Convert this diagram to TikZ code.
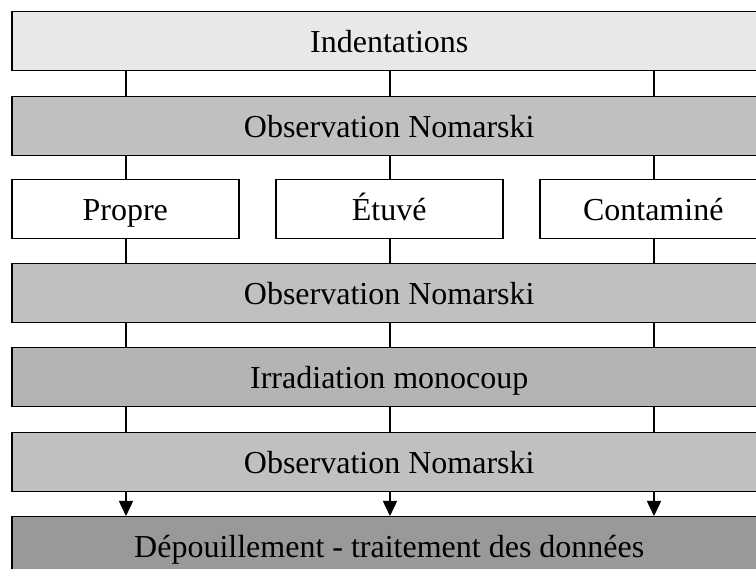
\documentclass[tikz,border=0pt]{standalone}
\usepackage{fontspec}
\setmainfont{Liberation Serif}
\usetikzlibrary{arrows.meta}
\definecolor{cTop}{HTML}{E8E8E8}
\definecolor{cObs}{HTML}{C0C0C0}
\definecolor{cIrr}{HTML}{B4B4B4}
\definecolor{cDep}{HTML}{999999}
\tikzset{
  bar/.style={draw=black, line width=1.5pt, rectangle, anchor=north west,
    minimum width=755pt, minimum height=59pt, inner sep=0pt,
    text height=26pt, text depth=3pt,
    font=\fontsize{32}{38}\selectfont},
  small/.style={bar, minimum width=227pt, fill=white},
  link/.style={line width=1.5pt},
  arr/.style={line width=1.5pt, -{Triangle[length=15pt,width=14pt]}}
}
\begin{document}
\begin{tikzpicture}[x=1pt,y=-1pt]
\clip (0,0) rectangle (756,569);
\fill[white] (0,0) rectangle (756,569);
\coordinate (c1) at (126,0);
\coordinate (c2) at (390,0);
\coordinate (c3) at (654,0);
\node[bar, fill=cTop] (top) at (11,11) {Indentations};
\node[bar, fill=cObs] (obsA) at (11,96) {Observation Nomarski};
\node[small] (prop) at (11,179) {Propre};
\node[small] (etuv) at (275,179) {Étuvé};
\node[small] (cont) at (539,179) {Contaminé};
\node[bar, fill=cObs] (obsB) at (11,263) {Observation Nomarski};
\node[bar, fill=cIrr] (irr) at (11,347) {Irradiation monocoup};
\node[bar, fill=cObs] (obsC) at (11,432) {Observation Nomarski};
\node[bar, fill=cDep] (dep) at (11,516) {Dépouillement - traitement des données};
\foreach \c in {c1,c2,c3}{
  \draw[link] (top.south -| \c) -- (obsA.north -| \c);
  \draw[link] (obsB.south -| \c) -- (irr.north -| \c);
  \draw[link] (irr.south -| \c) -- (obsC.north -| \c);
  \draw[arr] (obsC.south -| \c) -- (dep.north -| \c);
}
\draw[link] (obsA.south -| c1) -- (prop.north -| c1);
\draw[link] (obsA.south -| c2) -- (etuv.north -| c2);
\draw[link] (obsA.south -| c3) -- (cont.north -| c3);
\draw[link] (prop.south -| c1) -- (obsB.north -| c1);
\draw[link] (etuv.south -| c2) -- (obsB.north -| c2);
\draw[link] (cont.south -| c3) -- (obsB.north -| c3);
\end{tikzpicture}
\end{document}
